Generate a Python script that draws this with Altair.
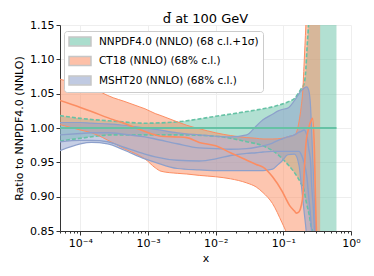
import altair as alt
import pandas as pd

# ---------------- data ----------------
nn_x = [5e-5, 1e-4, 3.07e-4, 9e-4, 2.7e-3, 0.01, 0.0288, 0.05, 0.084, 0.116, 0.146,
        0.183, 0.2018, 0.2153, 0.222, 0.2449, 0.253, 0.279, 0.298, 0.61]
nn_up = [1.018, 1.014, 1.010, 1.007, 1.009, 1.017, 1.024, 1.028, 1.033, 1.038, 1.043,
         1.057, 1.064, 1.086, 1.11, 1.2, 1.3, 1.4, 1.5, 1.5]
nn_lo = [0.981, 0.985, 0.990, 0.990, 0.990, 0.988, 0.980, 0.974, 0.961, 0.947, 0.935,
         0.919, 0.910, 0.895, 0.889, 0.870, 0.861, 0.840, 0.800, 0.500]
nn_c = [1.0] * len(nn_x)

ct_x = [5e-5, 1e-4, 1.46e-4, 3.07e-4, 4.4e-4, 7.4e-4, 9e-4, 1.28e-3, 1.56e-3, 2.7e-3,
        3.73e-3, 5.7e-3, 0.01, 0.0166, 0.0288, 0.0398, 0.05, 0.0692, 0.0957, 0.1054,
        0.124, 0.146, 0.1555, 0.171, 0.183, 0.1954, 0.2018, 0.2153, 0.2372, 0.261,
        0.27, 0.288, 0.298, 0.308, 0.35]
ct_up = [1.071, 1.063, 1.058, 1.044, 1.039, 1.031, 1.028, 1.021, 1.018, 1.009,
         1.004, 0.999, 0.993, 0.989, 0.986, 0.985, 0.984, 0.984, 0.985, 0.986,
         0.988, 0.990, 0.993, 1.010, 1.030, 1.060, 1.090, 1.150, 1.250, 1.400,
         1.400, 1.400, 1.400, 1.400, 1.400]
ct_c = [1.040, 1.030, 1.024, 1.012, 1.007, 0.998, 0.995, 0.990, 0.988, 0.987,
        0.986, 0.979, 0.974, 0.964, 0.953, 0.947, 0.943, 0.929, 0.908, 0.900,
        0.887, 0.879, 0.876, 0.878, 0.886, 0.905, 0.930, 0.976, 1.000, 1.012,
        1.014, 0.967, 0.900, 0.850, 0.700]
ct_lo = [1.005, 0.997, 0.993, 0.978, 0.970, 0.960, 0.955, 0.942, 0.937, 0.934,
         0.933, 0.931, 0.929, 0.926, 0.920, 0.914, 0.906, 0.890, 0.862, 0.853,
         0.835, 0.800, 0.780, 0.760, 0.740, 0.720, 0.700, 0.700, 0.700, 0.700,
         0.700, 0.700, 0.700, 0.700, 0.700]

ms_x = [5e-5, 1e-4, 1.46e-4, 2.53e-4, 4.4e-4, 9e-4, 1.28e-3, 2.7e-3, 5.7e-3, 0.01,
        0.0166, 0.0288, 0.0398, 0.05, 0.0692, 0.084, 0.0957, 0.116, 0.146, 0.171,
        0.183, 0.2018, 0.222, 0.2372, 0.253, 0.261, 0.279, 0.298, 0.318]
ms_up = [1.008, 1.008, 1.007, 1.006, 1.004, 1.000, 0.998, 0.993, 0.990, 0.988,
         0.987, 0.990, 1.003, 1.012, 1.020, 1.025, 1.027, 1.029, 1.040, 1.050,
         1.054, 1.058, 1.060, 1.055, 1.030, 1.000, 0.930, 0.860, 0.800]
ms_a = [0.990, 0.992, 0.993, 0.993, 0.991, 0.987, 0.984, 0.977, 0.971, 0.970,
        0.969, 0.970, 0.972, 0.974, 0.978, 0.982, 0.984, 0.987, 0.990, 0.994,
        0.995, 0.997, 0.990, 0.970, 0.950, 0.920, 0.880, 0.820, 0.780]
ms_b = [0.980, 0.982, 0.982, 0.980, 0.972, 0.962, 0.958, 0.953, 0.952, 0.955,
        0.960, 0.963, 0.964, 0.965, 0.966, 0.966, 0.966, 0.966, 0.966, 0.966,
        0.962, 0.950, 0.930, 0.900, 0.870, 0.850, 0.820, 0.800, 0.780]
ms_lo = [0.967, 0.977, 0.979, 0.977, 0.968, 0.955, 0.950, 0.941, 0.939, 0.938,
         0.938, 0.938, 0.938, 0.938, 0.940, 0.947, 0.952, 0.961, 0.962, 0.945,
         0.920, 0.880, 0.840, 0.800, 0.780, 0.770, 0.760, 0.750, 0.740]

labels = ["NNPDF4.0 (NNLO) (68 c.l.+1σ)", "CT18 (NNLO) (68% c.l.)", "MSHT20 (NNLO) (68% c.l.)"]
colors = ["#66c2a5", "#fc8d62", "#8da0cb"]
x_major = [0.0001, 0.001, 0.01, 0.1, 1.0]
x_minor = [round(m * 10.0 ** k, 8) for k in range(-5, 0) for m in range(2, 10)
           if 5e-5 <= m * 10.0 ** k <= 1]
y_ticks = [0.85, 0.90, 0.95, 1.00, 1.05, 1.10, 1.15]

# ---------------- tables ----------------
bands = pd.concat([
    pd.DataFrame({"x": nn_x, "lo": nn_lo, "up": nn_up, "set": labels[0]}),
    pd.DataFrame({"x": ct_x, "lo": ct_lo, "up": ct_up, "set": labels[1]}),
    pd.DataFrame({"x": ms_x, "lo": ms_lo, "up": ms_up, "set": labels[2]}),
])

def line_df(xs, ys):
    return pd.DataFrame({"x": xs, "y": ys})

xscale = alt.Scale(type="log", domain=[5e-5, 1], nice=False)
yscale = alt.Scale(domain=[0.85, 1.15], nice=False, zero=False)

is_major = "indexof([0.0001, 0.001, 0.01, 0.1, 1], datum.value) >= 0"
label_expr = ("datum.value == 0.0001 ? '10⁻⁴' : datum.value == 0.001 ? '10⁻³' : "
              "datum.value == 0.01 ? '10⁻²' : datum.value == 0.1 ? '10⁻¹' : "
              "datum.value == 1 ? '10⁰' : ''")

x_axis = alt.Axis(values=x_major + x_minor, labelExpr=label_expr, title="x", grid=True,
                  tickSize={"condition": {"test": is_major, "value": 4}, "value": 2},
                  gridOpacity={"condition": {"test": is_major, "value": 1}, "value": 0},
                  labelFontSize=11, titleFontSize=11, labelPadding=2,
                  titlePadding=4, labelOverlap=False, labelFlush=False, orient="bottom")
y_axis = alt.Axis(values=y_ticks, format=".2f", title="Ratio to NNPDF4.0 (NNLO)",
                  grid=True, tickSize=4, labelFontSize=11, titleFontSize=11,
                  labelPadding=2, titlePadding=5, labelOverlap=False, tickCount=7)

area = alt.Chart(bands).mark_area(opacity=0.5, clip=True, interpolate="monotone").encode(
    x=alt.X("x:Q", scale=xscale, axis=x_axis),
    y=alt.Y("lo:Q", scale=yscale, axis=y_axis),
    y2="up:Q",
    color=alt.Color("set:N", sort=labels,
                    scale=alt.Scale(domain=labels, range=colors),
                    legend=alt.Legend(title=None, orient="none", legendX=4, legendY=6,
                                      symbolType="M-1,-0.8H3V0.8H-1Z", symbolSize=121,
                                      symbolOpacity=0.55, symbolStrokeColor="#999999",
                                      symbolStrokeWidth=1.5, labelFontSize=10.5,
                                      labelOffset=18, rowPadding=4.5, padding=4,
                                      fillColor="white", strokeColor="#cccccc",
                                      cornerRadius=3, labelLimit=400)),
    order=alt.Order("set:N"),
)

def line(xs, ys, color, width=1.4, dash=None):
    kw = dict(color=color, strokeWidth=width, clip=True, interpolate="monotone")
    if dash:
        kw["strokeDash"] = dash
    return alt.Chart(line_df(xs, ys)).mark_line(**kw).encode(
        x=alt.X("x:Q", scale=xscale, axis=x_axis),
        y=alt.Y("y:Q", scale=yscale, axis=y_axis))

chart = alt.layer(
    area,
    line(nn_x, nn_up, colors[0], 1.6, [4, 2]),
    line(nn_x, nn_lo, colors[0], 1.6, [4, 2]),
    line(ct_x, ct_up, colors[1], 1.0),
    line(ct_x, ct_lo, colors[1], 1.0),
    line(ms_x, ms_up, colors[2], 1.2),
    line(ms_x, ms_lo, colors[2], 1.2),
    line(ms_x, ms_b, colors[2], 1.4),
    line(ms_x, ms_a, colors[2], 1.4),
    line(ct_x, ct_c, colors[1], 1.6),
    line(nn_x, nn_c, colors[0], 2.0),
).properties(
    width=358, height=260,
    autosize=alt.AutoSizeParams(type="fit", contains="padding"),
    title=alt.Title("d̄ at 100 GeV", fontSize=13, fontWeight="normal", offset=-7),
).configure_view(stroke=None).configure_axis(
    domainColor="#333333", tickColor="#333333", labelColor="#000000",
    titleColor="#000000", gridColor="#eeeeee", labelFont="DejaVu Sans",
    titleFont="DejaVu Sans", titleFontWeight="normal",
).configure_legend(labelFont="DejaVu Sans").configure_title(font="DejaVu Sans")

chart.save("out.html", embed_options={"renderer": "svg", "actions": False})
